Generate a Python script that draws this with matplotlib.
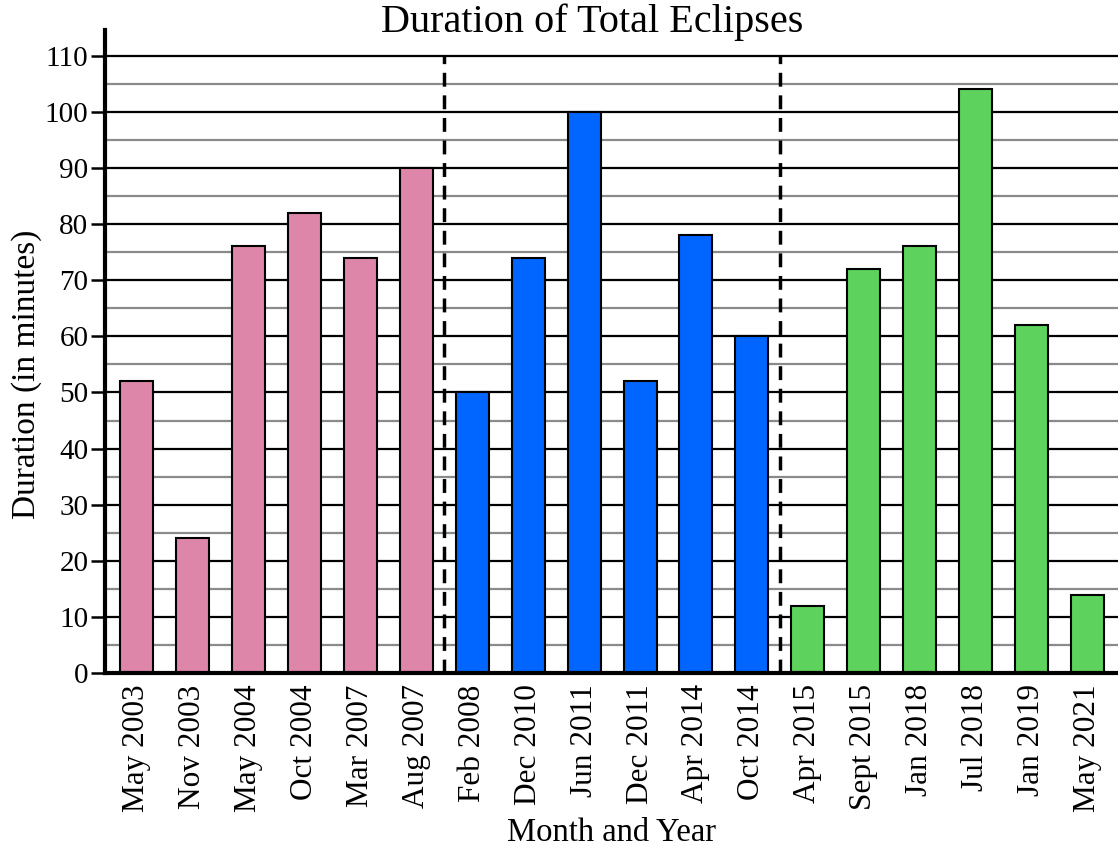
import matplotlib
matplotlib.use('Agg')
import matplotlib.pyplot as plt
import numpy as np

# %% Data
months = ['May 2003', 'Nov 2003', 'May 2004', 'Oct 2004', 'Mar 2007', 'Aug 2007',
          'Feb 2008', 'Dec 2010', 'Jun 2011', 'Dec 2011', 'Apr 2014', 'Oct 2014',
          'Apr 2015', 'Sept 2015', 'Jan 2018', 'Jul 2018', 'Jan 2019', 'May 2021']
durations = [52, 24, 76, 82, 74, 90,
             50, 74, 100, 52, 78, 60,
             12, 72, 76, 104, 62, 14]
group_sizes = [6, 6, 6]
group_colors = ['#DE86A9', '#0066FF', '#5DD35D']

# %% Plot
plt.rcParams['font.family'] = ['Liberation Serif', 'DejaVu Serif']

fig = plt.figure(figsize=(11.18, 8.5), dpi=100)
ax = fig.add_axes([0.094, 0.208, 0.906, 0.757])

colors = []
for size, col in zip(group_sizes, group_colors):
    colors += [col] * size

x = np.arange(len(months))
ax.bar(x, durations, width=0.59, color=colors, edgecolor='black',
       linewidth=1.5, zorder=3)

# group separators
bounds = np.cumsum(group_sizes)[:-1] - 0.5
for b in bounds:
    ax.plot([b, b], [0, 110], color='black', linestyle=(0, (4, 2.5)),
            linewidth=2.5, zorder=4)

ax.set_xlim(-0.57, 17.55)
ax.set_ylim(0, 114.6)

ax.set_yticks(np.arange(0, 111, 10))
ax.set_yticks(np.arange(5, 110, 10), minor=True)
ax.grid(axis='y', which='major', color='black', linewidth=1.6, zorder=0)
ax.grid(axis='y', which='minor', color='#8a8a8a', linewidth=1.6, zorder=0)
ax.set_axisbelow(True)

ax.set_xticks(x)
ax.set_xticklabels(months, rotation=90)
ax.tick_params(axis='x', length=0, pad=8, labelsize=22.5)
ax.tick_params(axis='y', which='major', length=10, width=1.8, labelsize=21, pad=2)
ax.tick_params(axis='y', which='minor', length=0)

for side in ['top', 'right']:
    ax.spines[side].set_visible(False)
for side in ['left', 'bottom']:
    ax.spines[side].set_linewidth(3)
    ax.spines[side].set_zorder(5)

fig.text(0.53, 1 - 22 / 850, 'Duration of Total Eclipses', fontsize=29,
         ha='center', va='center')
ax.set_xlabel('Month and Year', fontsize=23.5, labelpad=4)
ax.set_ylabel('Duration (in minutes)', fontsize=24)
ax.yaxis.set_label_coords(-0.062, 0.465)

fig.savefig('out.png', dpi=100)
